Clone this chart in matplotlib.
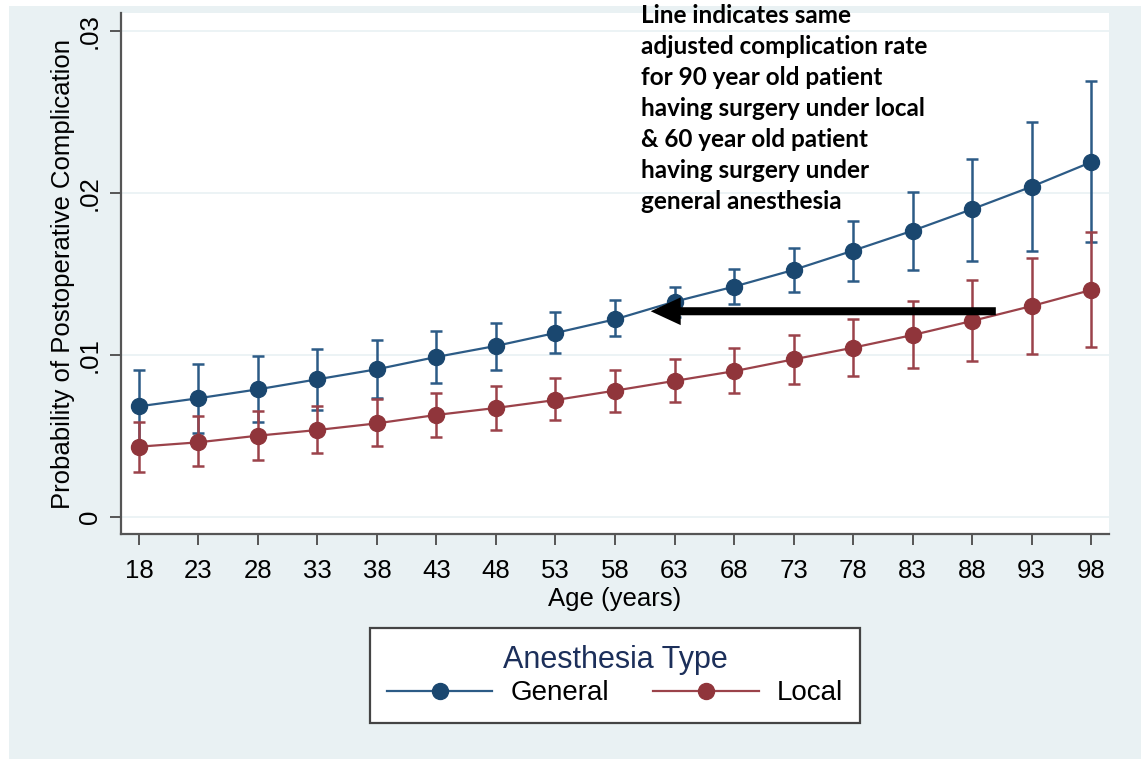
"""Predicted probability of postoperative complication by age and anesthesia type."""

import matplotlib

matplotlib.use("Agg")
import matplotlib.pyplot as plt
import numpy as np
from matplotlib.lines import Line2D
from matplotlib.patches import Rectangle

plt.rcParams.update({"font.family": ["Liberation Sans", "DejaVu Sans"]})

BG = "#e9f1f3"
NAVY = "#1a476f"
NAVY_LINE = "#2c5b86"
MAROON = "#90353b"
MAROON_LINE = "#9b424a"
AXIS_GREY = "#555555"

AGES = [18, 23, 28, 33, 38, 43, 48, 53, 58, 63, 68, 73, 78, 83, 88, 93, 98]

# margins: point estimate with 95% CI
GENERAL = [0.00683, 0.00733, 0.00788, 0.00850, 0.00912, 0.00988, 0.01056, 0.01136, 0.01220,
           0.01329, 0.01422, 0.01525, 0.01644, 0.01767, 0.01900, 0.02039, 0.02190]
GENERAL_LO = [0.00465, 0.00520, 0.00584, 0.00660, 0.00737, 0.00825, 0.00910, 0.01015, 0.01115,
              0.01236, 0.01313, 0.01389, 0.01457, 0.01523, 0.01582, 0.01644, 0.01696]
GENERAL_HI = [0.00905, 0.00946, 0.00994, 0.01040, 0.01090, 0.01148, 0.01200, 0.01265, 0.01340,
              0.01422, 0.01529, 0.01662, 0.01825, 0.02006, 0.02212, 0.02436, 0.02689]

LOCAL = [0.00434, 0.00461, 0.00502, 0.00537, 0.00578, 0.00630, 0.00673, 0.00722, 0.00780,
         0.00840, 0.00900, 0.00973, 0.01045, 0.01123, 0.01210, 0.01302, 0.01401]
LOCAL_LO = [0.00278, 0.00313, 0.00350, 0.00393, 0.00440, 0.00494, 0.00540, 0.00600, 0.00650,
            0.00710, 0.00765, 0.00823, 0.00872, 0.00922, 0.00965, 0.01006, 0.01049]
LOCAL_HI = [0.00588, 0.00623, 0.00654, 0.00687, 0.00728, 0.00765, 0.00810, 0.00860, 0.00910,
            0.00975, 0.01043, 0.01123, 0.01224, 0.01335, 0.01461, 0.01601, 0.01757]

Y_TICKS = [0, 0.01, 0.02, 0.03]
Y_TICK_LABELS = ["0", ".01", ".02", ".03"]

# equal-risk comparison: 90 y/o under local vs ~60 y/o under general
ARROW_FROM_AGE = 90
ARROW_TO_AGE = 61
ARROW_RATE = 0.0127

NOTE = (
    "Line indicates same\n"
    "adjusted complication rate\n"
    "for 90 year old patient\n"
    "having surgery under local\n"
    "& 60 year old patient\n"
    "having surgery under\n"
    "general anesthesia"
)


def plot_series(ax, y, lo, hi, marker_color, line_color):
    y = np.asarray(y)
    err = [y - np.asarray(lo), np.asarray(hi) - y]
    ax.errorbar(
        AGES, y, yerr=err, fmt="-o", color=line_color, ecolor=line_color,
        markerfacecolor=marker_color, markeredgecolor=marker_color,
        markersize=11.5, lw=1.6, elinewidth=1.8, capsize=4.2, capthick=1.8,
        zorder=3,
    )
    return Line2D([], [], color=line_color, lw=1.6, marker="o", markersize=11.5,
                  markerfacecolor=marker_color, markeredgecolor=marker_color)


fig = plt.figure(figsize=(11.41, 7.59), dpi=100, facecolor="white")
fig.patches.append(
    Rectangle((9 / 1141, 0), 1, 1 - 6 / 759, transform=fig.transFigure,
              facecolor=BG, edgecolor="none", zorder=-10)
)

ax = fig.add_axes([121 / 1141, 1 - 534 / 759, 988 / 1141, 521 / 759])
ax.set_facecolor("white")

h_gen = plot_series(ax, GENERAL, GENERAL_LO, GENERAL_HI, NAVY, NAVY_LINE)
h_loc = plot_series(ax, LOCAL, LOCAL_LO, LOCAL_HI, MAROON, MAROON_LINE)

ax.annotate(
    "", xy=(ARROW_TO_AGE, ARROW_RATE), xytext=(ARROW_FROM_AGE, ARROW_RATE),
    arrowprops=dict(arrowstyle="simple,head_length=1.08,head_width=1.0,tail_width=0.29",
                    mutation_scale=20, shrinkA=0, shrinkB=0, lw=0, fc="black"),
    zorder=5,
)

ax.set_xlim(16.49, 99.51)
ax.set_ylim(-0.00105, 0.03111)
ax.set_xticks(AGES)
ax.set_xticklabels([str(a) for a in AGES], fontsize=18.5)
ax.set_yticks(Y_TICKS)
ax.set_yticklabels(Y_TICK_LABELS, fontsize=18.5, rotation=90, va="center")
ax.grid(axis="y", color=BG, lw=1.2)
ax.set_axisbelow(True)

for side in ("top", "right"):
    ax.spines[side].set_visible(False)
for side in ("left", "bottom"):
    ax.spines[side].set_color(AXIS_GREY)
    ax.spines[side].set_linewidth(1.6)
ax.tick_params(direction="out", length=8, width=1.4, color=AXIS_GREY)
ax.tick_params(axis="x", pad=10)
ax.tick_params(axis="y", pad=6)

ax.set_xlabel("Age (years)", fontsize=18.5, labelpad=3)
ax.set_ylabel("Probability of Postoperative Complication", fontsize=18.5, labelpad=2)

leg = ax.legend(
    [h_gen, h_loc], ["General", "Local"],
    loc="upper center", bbox_to_anchor=(615 / 1141, 1 - 628 / 759),
    bbox_transform=fig.transFigure, borderaxespad=0, ncol=2, title="Anesthesia Type",
    fontsize=20, title_fontsize=22, frameon=True, fancybox=False,
    handlelength=3.8, handletextpad=0.65, columnspacing=1.6,
    borderpad=0.6, labelspacing=0.2,
)
leg.get_title().set_color("#1c2f5a")
frame = leg.get_frame()
frame.set_edgecolor("#444444")
frame.set_linewidth(1.6)
frame.set_facecolor("white")
frame.set_alpha(1)

fig.text(641 / 1141, 1 - 4 / 759, NOTE, ha="left", va="top", fontsize=17.5,
         fontweight="bold", family=["Lato", "DejaVu Sans"], linespacing=1.42)

fig.savefig("out.png", dpi=100, facecolor="white")
